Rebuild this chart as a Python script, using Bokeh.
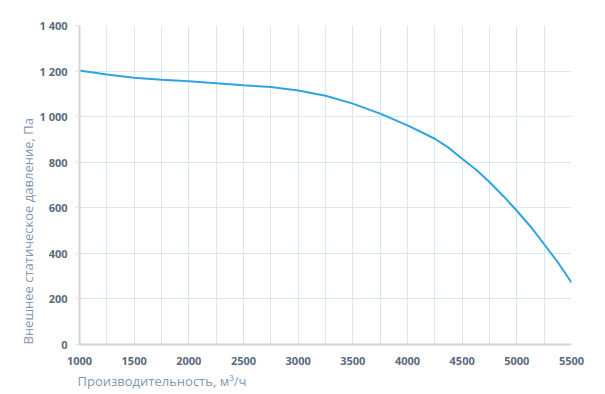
from bokeh.plotting import figure
from bokeh.models import FixedTicker, Range1d, Title
from bokeh.embed import file_html
from bokeh.resources import INLINE

airflow = [1000, 1250, 1500, 1750, 2000, 2250, 2500, 2750, 3000, 3250, 3500, 3750, 4000,
           4250, 4375, 4500, 4625, 4750, 4875, 5000, 5125, 5250, 5375, 5500]
pressure = [1203, 1185, 1171, 1162, 1155, 1147, 1138, 1130, 1115, 1092, 1057, 1013, 962,
            903, 864, 815, 768, 713, 652, 587, 518, 440, 361, 272]

x_ticks = [1000, 1500, 2000, 2500, 3000, 3500, 4000, 4500, 5000, 5500]
x_grid = [1000, 1250, 1500, 1750, 2000, 2250, 2500, 2750, 3000, 3250, 3500, 3750, 4000, 4250, 4500, 4750, 5000, 5250, 5500]
y_ticks = [0, 200, 400, 600, 800, 1000, 1200, 1400]
y_labels = ["0", "200", "400", "600", "800", "1 000", "1 200", "1 400"]

x_title = "Производительность, м³/ч"
y_title = "Внешнее  статическое  давление, Па"

p = figure(width=605, height=394, output_backend="svg", toolbar_location=None,
           x_range=Range1d(1000, 5500), y_range=Range1d(0, 1400),
           min_border_left=79, min_border_right=34, min_border_top=25, min_border_bottom=50)
p.outline_line_color = None
p.background_fill_color = "white"

font = "Open Sans"
tick_color = "#5a6a80"
title_color = "#8497b0"
grid_color = "#dae5f4"

p.xaxis.ticker = FixedTicker(ticks=x_ticks)
p.yaxis.ticker = FixedTicker(ticks=y_ticks)
p.yaxis.major_label_overrides = {t: l for t, l in zip(y_ticks, y_labels)}

p.xgrid.ticker = FixedTicker(ticks=x_grid)
p.ygrid.ticker = FixedTicker(ticks=y_ticks)
p.grid.grid_line_color = grid_color
p.grid.grid_line_width = 1

for ax in (p.xaxis, p.yaxis):
    ax.axis_line_color = "#d4d4d4"
    ax.axis_line_width = 2
    ax.minor_tick_line_color = None
    ax.major_label_text_font = font
    ax.major_label_text_font_size = "11px"
    ax.major_label_text_font_style = "bold"
    ax.major_label_text_color = tick_color

p.xaxis.major_tick_line_color = None
p.xaxis.major_tick_out = 0
p.xaxis.major_tick_in = 0
p.xaxis.major_label_standoff = 12
p.yaxis.major_tick_line_color = grid_color
p.yaxis.major_tick_out = 4
p.yaxis.major_tick_in = 0
p.yaxis.major_label_standoff = 8

p.add_layout(Title(text=x_title, align="left", text_font=font, text_font_size="13px",
                   text_font_style="normal", text_color=title_color, standoff=4, offset=-2), "below")
p.add_layout(Title(text=y_title, align="left", text_font=font, text_font_size="13px",
                   text_font_style="normal", text_color=title_color, standoff=0, offset=0), "left")

p.line(airflow, pressure, line_color="#2ea5df", line_width=2)

open("out.html", "w").write(file_html(p, INLINE))
